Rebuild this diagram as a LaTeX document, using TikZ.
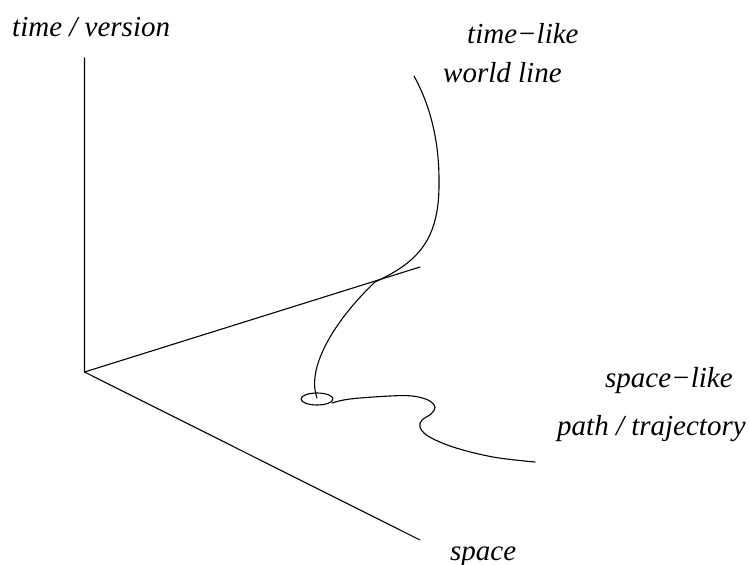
\documentclass[tikz,border=0pt]{standalone}
\usepackage{fontspec}
\setmainfont{Liberation Serif}[ItalicFont={Liberation Serif Italic}]
\usetikzlibrary{shapes.geometric}
\begin{document}
\begin{tikzpicture}[x=1pt,y=-1pt,
  lbl/.style={anchor=base west,inner sep=0pt,font=\fontsize{29}{34}\selectfont\itshape},
  ln/.style={line width=1.1pt,line cap=round,line join=round}]
\useasboundingbox (0,0) rectangle (750,565);
% axes
\coordinate (O) at (84.5,372);
\coordinate (T) at (84.5,58);
\coordinate (Y) at (420,267);
\coordinate (X) at (420,540);
\draw[ln] (T) -- (O) -- (Y);
\draw[ln] (O) -- (X);
% world line
\coordinate (w0) at (414,76);
\coordinate (w1) at (439,180);
\coordinate (w2) at (375,282);
\coordinate (w3) at (317,398);
\draw[ln] (w0) .. controls (430,105) and (439,140) .. (w1)
               .. controls (440,240) and (418,262) .. (w2)
               .. controls (340,315) and (305,365) .. (w3);
% loop
\node[ln,draw,ellipse,minimum width=32pt,minimum height=12pt,inner sep=0pt] (L) at (317,399) {};
% space-like path
\draw[ln] plot[smooth,tension=0.6] coordinates {(332,403) (350,399) (390,396) (412,396) (428,400) (435,407) (431,414) (422,420) (420,427) (428,436) (453,447) (493,457) (535,462)};
% labels
\node[lbl] (tv) at (12,36) {time / version};
\node[lbl] (tl) at (467,43) {time−like};
\node[lbl] (wl) at (443,82) {world line};
\node[lbl] (sl) at (605,387) {space−like};
\node[lbl] (pt) at (557,435) {path / trajectory};
\node[lbl] (sp) at (450,560) {space};
\end{tikzpicture}
\end{document}
